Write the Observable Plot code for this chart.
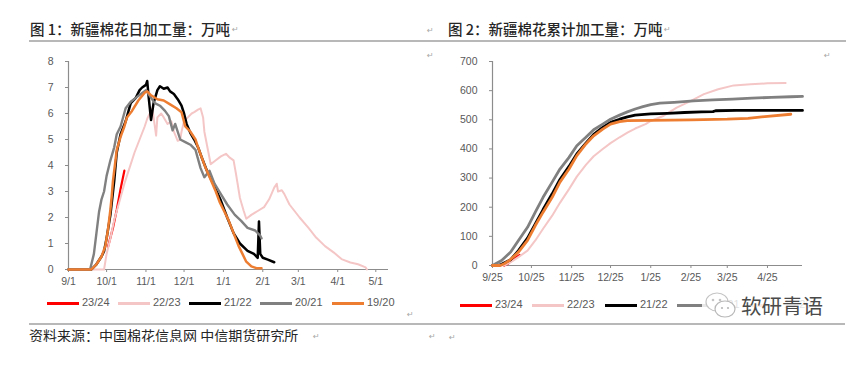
<!DOCTYPE html>
<html><head><meta charset="utf-8">
<script src="https://cdn.jsdelivr.net/npm/d3@7"></script>
<script src="https://cdn.jsdelivr.net/npm/@observablehq/plot@0.6"></script>
<style>
body{margin:0;background:#fff;}
#page{position:relative;width:866px;height:375px;overflow:hidden;background:#fff;font-family:"Noto Sans CJK SC",sans-serif;}
.t{position:absolute;white-space:nowrap;color:#262626;font-size:14.5px;line-height:1;}
.pm{position:absolute;color:#a6a6a6;font-size:8px;line-height:1;font-family:"DejaVu Sans",sans-serif;}
.rule{position:absolute;height:2px;background:#b8b8b8;}
.chart{position:absolute;top:0;}
.chart svg{overflow:visible;}
.li{position:absolute;height:3px;width:32px;}
.ll{position:absolute;font-family:"Liberation Sans",Arial,sans-serif;font-size:11px;color:#595959;line-height:1;white-space:nowrap;}
</style></head>
<body><div id="page">
<div class="t" style="left:30px;top:22px;font-weight:500;">图 1：新疆棉花日加工量：万吨</div>
<div class="t" style="left:448px;top:22px;font-weight:500;">图 2：新疆棉花累计加工量：万吨</div>
<div class="rule" style="left:29px;top:40px;width:817px;"></div>
<div class="rule" style="left:29px;top:323px;width:816px;"></div>
<div style="position:absolute;left:29px;top:327px;height:15px;width:300px;overflow:hidden;">
  <div class="t" style="position:absolute;left:0;top:1px;font-size:14px;">资料来源：中国棉花信息网 中信期货研究所</div>
</div>
<div class="pm" style="left:232px;top:26px;">↵</div>
<div class="pm" style="left:427px;top:27px;">↵</div>
<div class="pm" style="left:427px;top:52px;">↵</div>
<div class="pm" style="left:664px;top:26px;">↵</div>
<div class="pm" style="left:824px;top:52px;">↵</div>
<div class="pm" style="left:407px;top:311px;">↵</div>
<div class="pm" style="left:313px;top:333px;">↵</div>
<div class="pm" style="left:429px;top:333px;">↵</div>
<div class="pm" style="left:449px;top:334px;">↵</div>
<div id="left" class="chart" style="left:0px;"></div>
<div id="right" class="chart" style="left:433px;"></div>
<div id="legends"></div>
<div style="position:absolute;left:702px;top:289px;width:128px;height:32px;background:rgba(255,255,255,0.82);"></div>
<svg style="position:absolute;left:704px;top:290px;" width="34" height="30">
  <ellipse cx="13" cy="12" rx="11" ry="9" fill="#fff" stroke="#c4c4c4" stroke-width="1.2"/>
  <ellipse cx="21" cy="19" rx="10" ry="8" fill="#fff" stroke="#b8b8b8" stroke-width="1.2"/>
  <circle cx="9" cy="10" r="1.3" fill="#c4c4c4"/><circle cx="16" cy="10" r="1.3" fill="#c4c4c4"/>
  <circle cx="18" cy="18" r="1.1" fill="#b8b8b8"/><circle cx="24" cy="18" r="1.1" fill="#b8b8b8"/>
</svg>
<div class="t" style="left:741px;top:295px;font-size:20.5px;color:#4a4a4a;text-shadow:0 0 2px #fff,0 0 2px #fff;">软研青语</div>
</div>
<script>
// ---- data ----
const seasons = ["23/24", "22/23", "21/22", "20/21", "19/20"];
const colors = ["#ff0000", "#f5c6c6", "#000000", "#808080", "#ed7d31"];

const dailyTicks = [0, 1, 2, 3, 4, 5, 6, 7, 8];
const dailyXTicks = ["9/1", "10/1", "11/1", "12/1", "1/1", "2/1", "3/1", "4/1", "5/1"];
const dailyDomain = ["9/1", "5/11"];
const cumTicks = [0, 100, 200, 300, 400, 500, 600, 700];
const cumXTicks = ["9/25", "10/25", "11/25", "12/25", "1/25", "2/25", "3/25", "4/25"];
const cumDomain = ["9/25", "5/22"];

// daily processing (万吨)
const daily2324 = [["10/2",0.85],["10/6",1.6],["10/9",2.3],["10/12",3.1],["10/15",3.8]];
const daily2223 = [["9/1",0],["9/29",0],["10/1",0.6],["10/4",1.2],["10/7",1.9],["10/11",2.6],["10/15",3.3],["10/19",3.9],["10/23",4.5],["10/27",5.0],["10/31",5.5],["11/2",5.8],["11/5",6.1],["11/6",6.2],["11/7",5.85],["11/9",5.15],["11/10",5.85],["11/13",6.0],["11/15",5.85],["11/18",5.6],["11/21",5.7],["11/23",5.3],["11/26",4.95],["11/28",5.0],["11/29",5.3],["12/1",5.7],["12/4",5.85],["12/7",6.0],["12/9",6.05],["12/12",6.15],["12/14",6.2],["12/16",5.85],["12/17",5.3],["12/20",4.55],["12/22",4.05],["12/26",4.2],["12/30",4.35],["1/3",4.45],["1/6",4.3],["1/9",4.2],["1/11",3.65],["1/14",2.75],["1/17",2.25],["1/19",1.95],["1/23",2.1],["1/28",2.25],["2/2",2.4],["2/6",2.7],["2/10",3.15],["2/12",3.3],["2/13",3.0],["2/16",3.05],["2/18",2.9],["2/22",2.5],["2/26",2.25],["3/2",2.0],["3/9",1.6],["3/15",1.23],["3/22",0.9],["3/29",0.65],["4/4",0.4],["4/11",0.27],["4/17",0.2],["4/23",0.08],["4/24",0]];
const daily2122 = [["9/1",0],["9/19",0],["9/23",0.2],["9/27",0.5],["9/29",0.7],["10/1",1.2],["10/4",2.1],["10/7",3.4],["10/9",4.5],["10/12",5.2],["10/16",5.7],["10/20",6.4],["10/24",6.6],["10/27",6.9],["10/29",7.0],["11/1",7.1],["11/2",7.25],["11/3",6.7],["11/5",5.75],["11/7",6.4],["11/10",6.9],["11/12",7.05],["11/15",6.95],["11/18",7.0],["11/20",6.85],["11/23",6.75],["11/26",6.55],["11/29",6.3],["12/1",6.0],["12/3",5.6],["12/6",5.25],["12/9",5.0],["12/12",4.7],["12/15",4.3],["12/19",3.8],["12/24",3.3],["12/30",2.65],["1/4",2.0],["1/9",1.4],["1/14",1.0],["1/20",0.72],["1/25",0.6],["1/28",0.45],["1/29",1.85],["1/30",0.6],["2/1",0.45],["2/5",0.38],["2/10",0.28]];
const daily2021 = [["9/1",0],["9/18",0],["9/21",0.6],["9/23",1.4],["9/25",2.2],["9/27",2.7],["9/29",3.0],["10/1",3.6],["10/4",4.2],["10/7",4.7],["10/9",5.2],["10/12",5.5],["10/16",6.2],["10/20",6.45],["10/24",6.6],["10/28",6.75],["11/1",6.9],["11/5",6.6],["11/8",6.4],["11/12",6.3],["11/16",6.1],["11/19",5.9],["11/22",5.35],["11/24",5.6],["11/28",5.0],["12/2",4.9],["12/6",4.8],["12/10",4.6],["12/14",3.9],["12/17",3.55],["12/21",3.8],["12/25",3.3],["12/30",2.9],["1/4",2.5],["1/10",2.1],["1/15",1.87],["1/20",1.6],["1/26",1.5],["1/30",1.3],["1/31",1.2]];
const daily1920 = [["9/1",0],["9/19",0],["9/23",0.2],["9/27",0.5],["9/30",0.9],["10/2",1.5],["10/4",2.3],["10/5",2.8],["10/6",3.4],["10/8",4.2],["10/9",4.6],["10/12",5.1],["10/15",5.5],["10/17",5.85],["10/21",6.1],["10/26",6.5],["10/31",6.8],["11/2",6.85],["11/5",6.7],["11/10",6.55],["11/15",6.5],["11/20",6.35],["11/25",6.2],["11/29",6.05],["12/2",5.5],["12/6",5.3],["12/10",5.0],["12/12",4.7],["12/15",4.3],["12/18",3.9],["12/22",3.45],["12/26",3.0],["12/29",2.6],["1/2",2.2],["1/5",1.9],["1/9",1.4],["1/13",0.9],["1/16",0.6],["1/19",0.3],["1/23",0.12],["1/27",0.05],["1/31",0.05]];

// cumulative processing (万吨)
const cum2324 = [["10/4",0],["10/7",6],["10/10",18],["10/13",27],["10/16",36]];
const cum2223 = [["9/25",0],["10/5",2],["10/10",14],["10/15",29],["10/22",51],["10/28",86],["11/3",126],["11/10",171],["11/16",215],["11/23",262],["11/29",305],["12/6",345],["12/12",375],["12/19",400],["12/25",420],["1/1",440],["1/7",456],["1/13",470],["1/21",485],["1/25",496],["2/4",514],["2/14",542],["2/25",565],["3/7",588],["3/18",605],["3/30",618],["4/12",622],["4/25",625],["5/9",626]];
const cum2122 = [["9/25",0],["9/29",0],["10/2",4],["10/9",20],["10/15",51],["10/22",94],["10/28",143],["11/3",192],["11/10",246],["11/16",295],["11/23",340],["11/29",383],["12/6",420],["12/12",450],["12/19",474],["12/25",491],["1/1",502],["1/7",510],["1/13",516],["1/25",520],["2/7",522],["2/20",525],["3/5",527],["3/14",528],["3/16",531],["4/1",532],["5/22",532]];
const cum2021 = [["9/25",0],["10/2",17],["10/9",46],["10/15",86],["10/22",131],["10/28",183],["11/3",234],["11/10",286],["11/16",331],["11/23",371],["11/29",411],["12/6",440],["12/12",466],["12/19",485],["12/25",502],["1/1",516],["1/7",527],["1/13",537],["1/19",545],["1/25",552],["2/1",557],["2/12",560],["2/27",565],["3/14",568],["3/29",571],["4/13",574],["4/28",577],["5/13",579],["5/22",580]];
const cum1920 = [["9/25",0],["10/1",0],["10/4",6],["10/8",17],["10/15",46],["10/22",86],["10/28",137],["11/3",183],["11/10",234],["11/16",286],["11/23",331],["11/29",377],["12/6",417],["12/12",445],["12/19",468],["12/25",485],["1/1",494],["1/7",497],["1/25",498],["2/25",500],["3/25",502],["4/10",505],["4/25",512],["5/13",519]];

// ---- helpers ----
const toDate = s => { const [m, d] = s.split("/").map(Number); return new Date(Date.UTC(m >= 8 ? 2021 : 2022, m - 1, d)); };
const fmt = d => `${d.getUTCMonth() + 1}/${d.getUTCDate()}`;
const axisColor = "#8c8c8c";

function makeChart(series, widths, opts) {
  const start = toDate(opts.domain[0]);
  return Plot.plot({
    width: opts.width, height: 290,
    marginLeft: opts.ml, marginRight: opts.mr, marginTop: 61, marginBottom: opts.mb,
    style: {fontFamily: "'Liberation Sans', Arial, sans-serif", fontSize: "10.5px", color: "#595959", background: "transparent", overflow: "visible"},
    x: {type: "utc", domain: opts.domain.map(toDate)},
    y: {domain: [opts.yTicks[0], opts.yTicks[opts.yTicks.length - 1]]},
    marks: [
      Plot.axisY({ticks: opts.yTicks, tickSize: 3, tickPadding: 12, stroke: axisColor, label: null}),
      Plot.axisX({ticks: opts.xTicks.map(toDate), tickFormat: fmt, tickSize: 3, tickPadding: 5, stroke: axisColor, label: null}),
      Plot.ruleX([start], {stroke: axisColor, strokeWidth: 1.2}),
      Plot.ruleY([opts.yTicks[0]], {stroke: axisColor, strokeWidth: 1.2}),
      ...series.map((data, i) => Plot.line(data, {
        x: d => toDate(d[0]), y: d => d[1],
        stroke: colors[i], strokeWidth: widths[i], strokeLinejoin: "round", strokeLinecap: "round"
      }))
    ]
  });
}

document.getElementById("left").append(makeChart(
  [daily2324, daily2223, daily2122, daily2021, daily1920], [2.2, 2, 2.5, 2.4, 2.5],
  {width: 430, ml: 68, mr: 42, mb: 21, domain: dailyDomain, xTicks: dailyXTicks, yTicks: dailyTicks}
));
document.getElementById("right").append(makeChart(
  [cum2324, cum2223, cum2122, cum2021, cum1920], [2.2, 2, 2.8, 2.8, 2.8],
  {width: 400, ml: 59, mr: 31, mb: 25, domain: cumDomain, xTicks: cumXTicks, yTicks: cumTicks}
));

// legends
const leg = document.getElementById("legends");
const legendSets = [
  {xs: [47, 118, 189, 260, 332], y: 303},
  {xs: [460, 532, 605, 677, 749], y: 305}
];
legendSets.forEach(set => {
  seasons.forEach((s, i) => {
    const ln = document.createElement("div");
    ln.className = "li";
    ln.style.left = set.xs[i] + "px";
    ln.style.top = (set.y - 1.5) + "px";
    ln.style.background = colors[i];
    leg.append(ln);
    const lb = document.createElement("div");
    lb.className = "ll";
    lb.textContent = s;
    lb.style.left = (set.xs[i] + 35) + "px";
    lb.style.top = (set.y - 6) + "px";
    leg.append(lb);
  });
});
</script>
</body></html>
